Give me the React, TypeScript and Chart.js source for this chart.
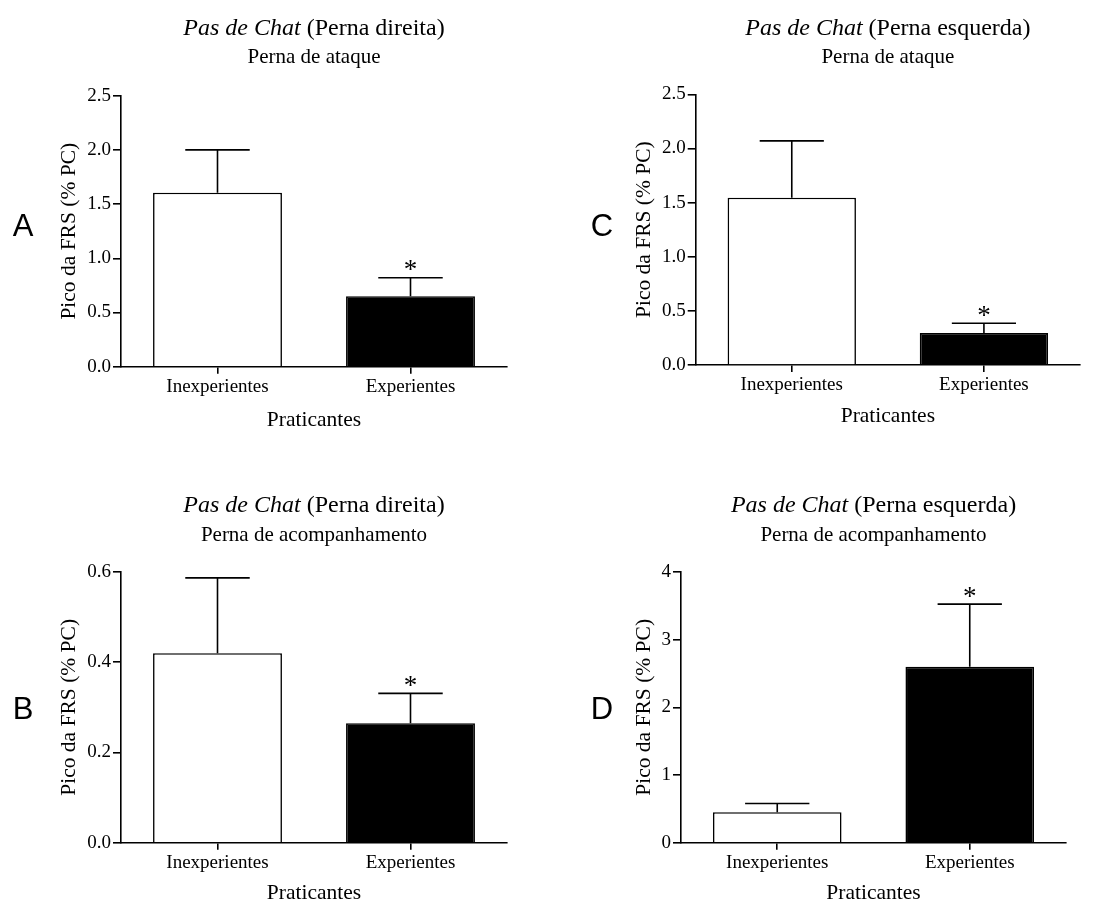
import React, { useEffect, useRef } from "react";
import { Chart, registerables } from "chart.js";

Chart.register(...registerables);

// ---------- DATA ----------
const categories = ["Inexperientes", "Experientes"];

const meansA = [1.605, 0.65];
const sdA = [0.395, 0.17];
const meansC = [1.545, 0.295];
const sdC = [0.525, 0.09];
const meansB = [0.42, 0.265];
const sdB = [0.167, 0.066];
const meansD = [0.45, 2.6];
const sdD = [0.13, 0.925];

const significant = [false, true];

const yTicksAC = [0, 0.5, 1, 1.5, 2, 2.5];
const yLabelsAC = ["0.0", "0.5", "1.0", "1.5", "2.0", "2.5"];
const yTicksB = [0, 0.2, 0.4, 0.6];
const yLabelsB = ["0.0", "0.2", "0.4", "0.6"];
const yTicksD = [0, 1, 2, 3, 4];
const yLabelsD = ["0", "1", "2", "3", "4"];

const titleItalic = "Pas de Chat";
const titleRight = " (Perna direita)";
const titleLeft = " (Perna esquerda)";
const subAttack = "Perna de ataque";
const subFollow = "Perna de acompanhamento";
const yTitle = "Pico da FRS (% PC)";
const xTitle = "Praticantes";

// ---------- LAYOUT / STYLE ----------
const SERIF = "'Times New Roman', 'Liberation Serif', serif";
const SANS = "Arial, 'Liberation Sans', sans-serif";

const panels = [
  {
    key: "A", letter: "A", means: meansA, sd: sdA, yTicks: yTicksAC, yLabels: yLabelsAC,
    titleRest: titleRight, subtitle: subAttack,
    left: 0, top: 0, w: 553, h: 452,
    area: { l: 121, r: 507, t: 95.7, b: 366.7 },
    yTitleX: 69, xTitleY: 420, titleY: 29, subY: 57, letterPos: [23, 227],
  },
  {
    key: "C", letter: "C", means: meansC, sd: sdC, yTicks: yTicksAC, yLabels: yLabelsAC,
    titleRest: titleLeft, subtitle: subAttack,
    left: 553, top: 0, w: 554, h: 452,
    area: { l: 142.7, r: 527, t: 94.3, b: 365 },
    yTitleX: 91, xTitleY: 416, titleY: 29, subY: 57, letterPos: [49, 227],
  },
  {
    key: "B", letter: "B", means: meansB, sd: sdB, yTicks: yTicksB, yLabels: yLabelsB,
    titleRest: titleRight, subtitle: subFollow,
    left: 0, top: 452, w: 553, h: 452,
    area: { l: 121, r: 507, t: 120, b: 390.7 },
    yTitleX: 69, xTitleY: 441.7, titleY: 54, subY: 83, letterPos: [23, 258],
  },
  {
    key: "D", letter: "D", means: meansD, sd: sdD, yTicks: yTicksD, yLabels: yLabelsD,
    titleRest: titleLeft, subtitle: subFollow,
    left: 553, top: 452, w: 554, h: 452,
    area: { l: 128, r: 513, t: 120, b: 390.7 },
    yTitleX: 91, xTitleY: 441.7, titleY: 54, subY: 83, letterPos: [49, 258],
  },
];

const TITLE_FONT = 24;
const SUB_FONT = 21;
const AXIS_TITLE_FONT = 21.5;
const XTICK_FONT = 19;
const YTICK_FONT = 19;
const STAR_FONT = 27;
const LETTER_FONT = 31;
const LINE_W = 1.6;

function Panel({ p }: { p: any }) {
  const ref = useRef<HTMLCanvasElement | null>(null);

  useEffect(() => {
    if (!ref.current) return;
    const lh = AXIS_TITLE_FONT * 1.2;

    const overlay = {
      id: "overlay" + p.key,
      afterDatasetsDraw(chart: any) {
        const ctx = chart.ctx;
        const meta = chart.getDatasetMeta(0);
        const ys = chart.scales.y;
        meta.data.forEach((bar: any, i: number) => {
          const { x, y, width } = bar.getProps(["x", "y", "width"], true);
          const top = ys.getPixelForValue(p.means[i] + p.sd[i]);
          ctx.save();
          ctx.strokeStyle = "#000";
          ctx.lineWidth = LINE_W;
          ctx.beginPath();
          ctx.moveTo(x, y);
          ctx.lineTo(x, top);
          ctx.moveTo(x - width / 4, top);
          ctx.lineTo(x + width / 4, top);
          ctx.stroke();
          if (significant[i]) {
            ctx.fillStyle = "#000";
            ctx.font = `${STAR_FONT}px ${SERIF}`;
            ctx.textAlign = "center";
            ctx.textBaseline = "alphabetic";
            ctx.fillText("*", x, top + 0.5);
          }
          ctx.restore();
        });
      },
      afterDraw(chart: any) {
        const ctx = chart.ctx;
        const ca = chart.chartArea;
        const cx = (ca.left + ca.right) / 2;
        ctx.save();
        ctx.fillStyle = "#000";
        ctx.textBaseline = "middle";
        ctx.font = `italic ${TITLE_FONT}px ${SERIF}`;
        const w1 = ctx.measureText(titleItalic).width;
        ctx.font = `${TITLE_FONT}px ${SERIF}`;
        const w2 = ctx.measureText(p.titleRest).width;
        const start = cx - (w1 + w2) / 2;
        ctx.textAlign = "left";
        ctx.font = `italic ${TITLE_FONT}px ${SERIF}`;
        ctx.fillText(titleItalic, start, p.titleY);
        ctx.font = `${TITLE_FONT}px ${SERIF}`;
        ctx.fillText(p.titleRest, start + w1, p.titleY);
        ctx.textAlign = "center";
        ctx.font = `${SUB_FONT}px ${SERIF}`;
        ctx.fillText(p.subtitle, cx, p.subY);
        ctx.font = `${LETTER_FONT}px ${SANS}`;
        ctx.fillText(p.letter, p.letterPos[0], p.letterPos[1]);
        ctx.restore();
      },
    };

    const chart = new Chart(ref.current, {
      type: "bar",
      data: {
        labels: categories,
        datasets: [
          {
            data: p.means,
            backgroundColor: ["#ffffff", "#000000"],
            borderColor: "#000000",
            borderWidth: LINE_W,
            borderSkipped: "bottom",
            barPercentage: 0.668,
            categoryPercentage: 1,
          },
        ],
      },
      options: {
        responsive: false,
        animation: false,
        devicePixelRatio: 1,
        layout: {
          padding: { top: p.area.t, right: p.w - p.area.r, bottom: 0, left: 0 },
        },
        plugins: {
          legend: { display: false },
          tooltip: { enabled: false },
          title: { display: false },
        },
        scales: {
          x: {
            offset: true,
            grid: {
              display: true,
              drawOnChartArea: false,
              drawTicks: true,
              tickLength: 7,
              offset: false,
              color: "#000",
              lineWidth: LINE_W,
            },
            border: { display: true, color: "#000", width: LINE_W },
            ticks: {
              color: "#000",
              padding: 2,
              font: { family: SERIF, size: XTICK_FONT },
            },
            title: {
              display: true,
              text: xTitle,
              color: "#000",
              font: { family: SERIF, size: AXIS_TITLE_FONT },
              padding: { top: 0, bottom: p.h - p.xTitleY - lh / 2 },
            },
            afterFit: (scale: any) => {
              scale.height = p.h - p.area.b;
            },
          },
          y: {
            min: p.yTicks[0],
            max: p.yTicks[p.yTicks.length - 1],
            grid: {
              display: true,
              drawOnChartArea: false,
              drawTicks: true,
              tickLength: 8,
              color: "#000",
              lineWidth: LINE_W,
            },
            border: { display: true, color: "#000", width: LINE_W },
            afterBuildTicks: (scale: any) => {
              scale.ticks = p.yTicks.map((v: number) => ({ value: v }));
            },
            ticks: {
              color: "#000",
              padding: 2,
              font: { family: SERIF, size: YTICK_FONT },
              callback: (_v: any, i: number) => p.yLabels[i],
            },
            title: {
              display: true,
              text: yTitle,
              color: "#000",
              font: { family: SERIF, size: AXIS_TITLE_FONT },
              padding: { top: p.yTitleX - lh / 2, bottom: 0 },
            },
            afterFit: (scale: any) => {
              scale.width = p.area.l;
            },
          },
        },
      },
      plugins: [overlay],
    } as any);

    return () => chart.destroy();
  }, [p]);

  return (
    <canvas
      ref={ref}
      width={p.w}
      height={p.h}
      style={{ position: "absolute", left: p.left, top: p.top, width: p.w, height: p.h }}
    />
  );
}

export default function App() {
  return (
    <div
      style={{
        position: "absolute",
        left: 0,
        top: 0,
        width: 1107,
        height: 904,
        background: "#fff",
        overflow: "hidden",
      }}
    >
      {panels.map((p) => (
        <Panel key={p.key} p={p} />
      ))}
    </div>
  );
}
